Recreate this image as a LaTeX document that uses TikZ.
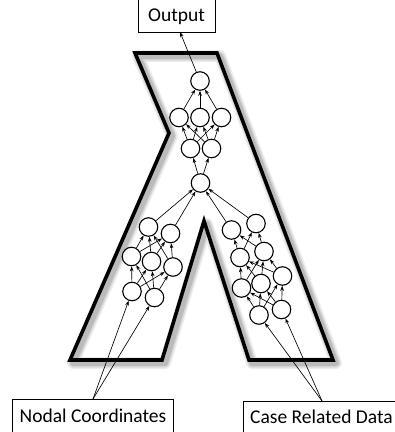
\documentclass[tikz,border=0pt]{standalone}
\usepackage{fontspec}
\setmainfont{Carlito}
\usetikzlibrary{arrows.meta}
\begin{document}
\begin{tikzpicture}[x=1pt,y=-1pt,
  neuron/.style={circle,draw,line width=1.1pt,fill=white,minimum size=18.5pt,inner sep=0pt},
  link/.style={line width=0.65pt,-{Stealth[length=5pt,width=3.6pt]}},
  caption/.style={inner sep=0pt,font=\fontsize{19.5}{22}\selectfont},
  frame/.style={line width=3.6pt,line join=miter}]
\useasboundingbox (0,0) rectangle (395,432);
\clip (0,0) rectangle (395,432);
\fill[white] (0,0) rectangle (395,432);

% lambda-shaped frame with a soft shadow
\def\lambdapath{(135,53) -- (217,53) -- (333,360) -- (249,360) -- (204,221) -- (162,360) -- (70,360) -- (169,133) -- cycle}
\foreach \w/\o in {12/0.07,9/0.09,6/0.13}
  \draw[line width=\w pt,black,opacity=\o,line join=round,shift={(3,3)}] \lambdapath;
\draw[frame] \lambdapath;

% label boxes
\draw[line width=0.6pt] (138,-2) -- (138,32) -- (215,32) -- (215,-2);
\node[caption] (out) at (176.5,17) {Output};
\coordinate (outin) at (180,32);
\draw[line width=0.6pt] (12,432) -- (12,399) -- (173,399) -- (173,432);
\node[caption] (nodal) at (93,416) {Nodal Coordinates};
\coordinate (nodalout) at (93,399);
\draw[line width=0.6pt] (243,432) -- (243,401) -- (400,401);
\node[caption] (case) at (321.5,417) {Case Related Data};
\coordinate (caseout) at (322,401);

% upper network
\node[neuron] (t) at (200,81) {};
\node[neuron] (r1) at (179,117.5) {};
\node[neuron] (r2) at (200,117.5) {};
\node[neuron] (r3) at (221.5,117.5) {};
\node[neuron] (s1) at (190.5,148.5) {};
\node[neuron] (s2) at (211.5,148.5) {};
\node[neuron] (m) at (200.5,183) {};

% left branch
\node[neuron] (a1) at (148.5,227) {};
\node[neuron] (a2) at (170.5,233.5) {};
\node[neuron] (b1) at (131.5,256.5) {};
\node[neuron] (b2) at (151.5,261.5) {};
\node[neuron] (b3) at (173,267) {};
\node[neuron] (c1) at (132,291.5) {};
\node[neuron] (c2) at (154.5,297.5) {};

% right branch
\node[neuron] (d1) at (231.5,230) {};
\node[neuron] (d2) at (256,223.5) {};
\node[neuron] (e1) at (240,257.5) {};
\node[neuron] (e2) at (264,251.5) {};
\node[neuron] (f1) at (241.5,288) {};
\node[neuron] (f2) at (261,283.5) {};
\node[neuron] (f3) at (282.5,276) {};
\node[neuron] (g1) at (259,315) {};
\node[neuron] (g2) at (281.5,309.5) {};

% connections
\draw[link] (t) -- (outin);
\foreach \u in {r1,r2,r3} \draw[link] (\u) -- (t);
\foreach \u in {s1,s2} \foreach \v in {r1,r2,r3} \draw[link] (\u) -- (\v);
\foreach \v in {s1,s2} \draw[link] (m) -- (\v);
\foreach \u in {a1,a2,d1,d2} \draw[link] (\u) -- (m);
\foreach \u in {b1,b2,b3} \foreach \v in {a1,a2} \draw[link] (\u) -- (\v);
\foreach \u in {c1,c2} \foreach \v in {b1,b2,b3} \draw[link] (\u) -- (\v);
\foreach \u in {e1,e2} \foreach \v in {d1,d2} \draw[link] (\u) -- (\v);
\foreach \u in {f1,f2,f3} \foreach \v in {e1,e2} \draw[link] (\u) -- (\v);
\foreach \u in {g1,g2} \foreach \v in {f1,f2,f3} \draw[link] (\u) -- (\v);
\foreach \v in {c1,c2} \draw[link] (nodalout) -- (\v);
\foreach \v in {g1,g2} \draw[link] (caseout) -- (\v);
\end{tikzpicture}
\end{document}
